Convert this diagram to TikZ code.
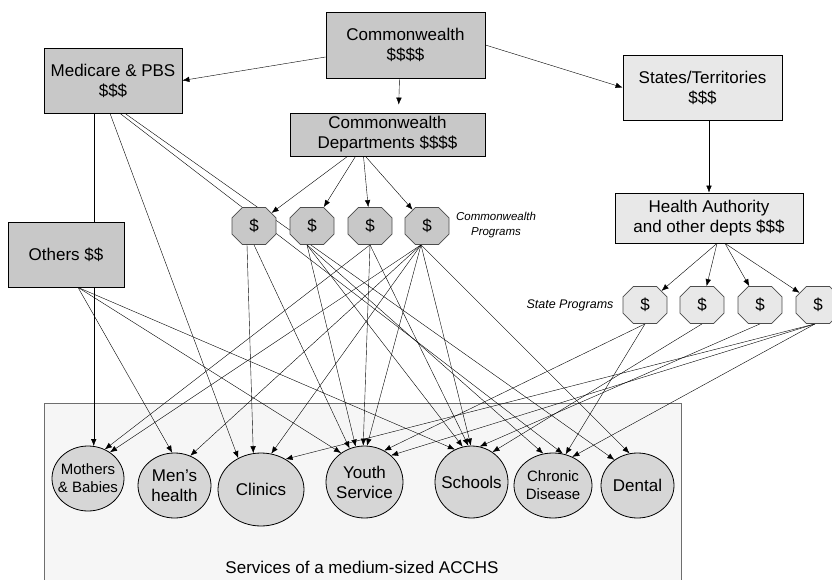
\documentclass[tikz,border=0pt]{standalone}
\usepackage{fontspec}
\setmainfont{Liberation Sans}
\usetikzlibrary{shapes.misc,shapes.geometric,arrows.meta}
\definecolor{darkbox}{RGB}{200,200,200}
\definecolor{lightbox}{RGB}{232,232,232}
\definecolor{servfill}{RGB}{214,214,214}
\definecolor{panelfill}{RGB}{246,246,246}
\definecolor{panelline}{RGB}{110,110,110}
\pgfdeclarelayer{panel}
\pgfdeclarelayer{wires}
\pgfsetlayers{panel,wires,main}

\begin{document}
\begin{tikzpicture}[x=1pt, y=-1pt, line width=0.8pt,
                    >={Latex[length=7pt,width=5.5pt]},
                    box/.style={rectangle,draw,fill=darkbox,align=center,inner sep=0pt,
                                font=\fontsize{17}{20}\selectfont},
                    light box/.style={box,fill=lightbox},
                    prog/.style={chamfered rectangle,chamfered rectangle xsep=10pt,draw=black!70,
                                 fill=darkbox,minimum width=44pt,minimum height=37pt,inner sep=0pt,
                                 font=\fontsize{17}{20}\selectfont},
                    state prog/.style={prog,fill=lightbox},
                    service/.style={ellipse,draw,fill=servfill,align=center,inner sep=-8pt,
                                    font=\fontsize{17}{20}\selectfont},
                    small service/.style={service,font=\fontsize{15}{18}\selectfont},
                    note/.style={align=center,font=\fontsize{11.5}{15}\selectfont\itshape}]
  \useasboundingbox (0,0) rectangle (832,580);

  \node[box, minimum width=159pt, minimum height=66pt] (cw) at (405.5,45) {Commonwealth\\\$\$\$\$};
  \node[box, minimum width=138pt, minimum height=65pt] (med) at (113,80.5) {Medicare \& PBS\\\$\$\$};
  \node[light box, minimum width=159pt, minimum height=65pt] (states) at (702.5,87.5) {States/Territories\\\$\$\$};
  \node[box, minimum width=195pt, minimum height=43pt] (depts) at (387.5,134.5) {Commonwealth\\Departments \$\$\$\$};
  \node[box, minimum width=116pt, minimum height=65pt] (others) at (66,254.5) {Others \$\$};
  \node[light box, minimum width=188pt, minimum height=50pt] (health) at (709,218) {Health Authority\\and other depts \$\$\$};

  \foreach \i/\x in {1/254,2/312,3/370,4/427}
    \node[prog] (c\i) at (\x,226) {\$};
  \foreach \i/\x in {1/645,2/702,3/760,4/818}
    \node[state prog] (s\i) at (\x,305) {\$};
  \node[note] (cwprog) at (496,225) {Commonwealth\\Programs};
  \node[note, font=\fontsize{12.5}{15}\selectfont\itshape] (stprog) at (570,305) {State Programs};

  \node[small service, minimum width=72pt, minimum height=65pt] (mothers) at (88,478.5) {Mothers\\\& Babies};
  \node[service, minimum width=73pt, minimum height=65pt] (mens) at (174.5,485.5) {Men’s\\health};
  \node[service, minimum width=86pt, minimum height=73pt] (clinics) at (261,489.5) {Clinics};
  \node[service, minimum width=77pt, minimum height=72pt] (youth) at (364.5,482) {Youth\\Service};
  \node[service, minimum width=73pt, minimum height=72pt] (schools) at (471.5,482) {Schools};
  \node[small service, minimum width=78pt, minimum height=65pt] (chronic) at (553,485.5) {Chronic\\Disease};
  \node[service, minimum width=73pt, minimum height=65pt] (dental) at (637.5,485.5) {Dental};
  \node[font=\fontsize{17}{20}\selectfont] (acchslabel) at (362,567) {Services of a medium-sized ACCHS};

  \begin{pgfonlayer}{panel}
    \node[draw=panelline, fill=panelfill, minimum width=637pt, minimum height=190pt,
          anchor=north west, inner sep=0pt] (acchs) at (44,403) {};
  \end{pgfonlayer}

  \begin{pgfonlayer}{wires}
  \path[->]
    ([yshift=-12pt]cw.west) edge (med.east)
    ([xshift=-6pt]cw.south) edge[shorten >=8pt] ([xshift=11pt]depts.north)
    (cw.east) edge (states.west)
    (health.north |- states.south) edge (health.north)
    ([xshift=-40pt]depts.south) edge (c1)
    ([xshift=-32pt]depts.south) edge (c2)
    ([xshift=-24pt]depts.south) edge (c3)
    ([xshift=-22pt]depts.south) edge (c4)
    ([xshift=8pt]health.south) edge (s1) edge (s2)
    ([xshift=16pt]health.south) edge (s3) edge (s4)
    (mothers.80 |- med.south) edge (mothers.80)
    ([xshift=-3pt]med.south) edge (clinics.126)
    ([xshift=7pt]med.south) edge (chronic.73)
    ([xshift=12pt]med.south) edge (dental.132)
    ([xshift=12pt]others.south) edge (mens.94) edge (youth.129) edge (schools.117)
    ([xshift=-7pt]c1.south) edge (clinics.102)
    (c1.south) edge (youth.114)
    ([xshift=-5pt]c2.south) edge (youth.104) edge (schools.104) edge (chronic.107)
    (c3.south) edge (mothers.60) edge (youth.92) edge (schools.95)
    ([xshift=-6pt]c4.south) edge (mothers.50) edge (mens.62) edge (clinics.74)
      edge (youth.86) edge (schools.91) edge (dental.104)
    (s1.south) edge (youth.58) edge (chronic.68)
    (s2.south) edge (schools.55)
    (s3.south) edge (schools.77)
    ([xshift=-3pt]s4.south) edge (clinics.51) edge (youth.45) edge (chronic.56);
  \end{pgfonlayer}
\end{tikzpicture}
\end{document}
